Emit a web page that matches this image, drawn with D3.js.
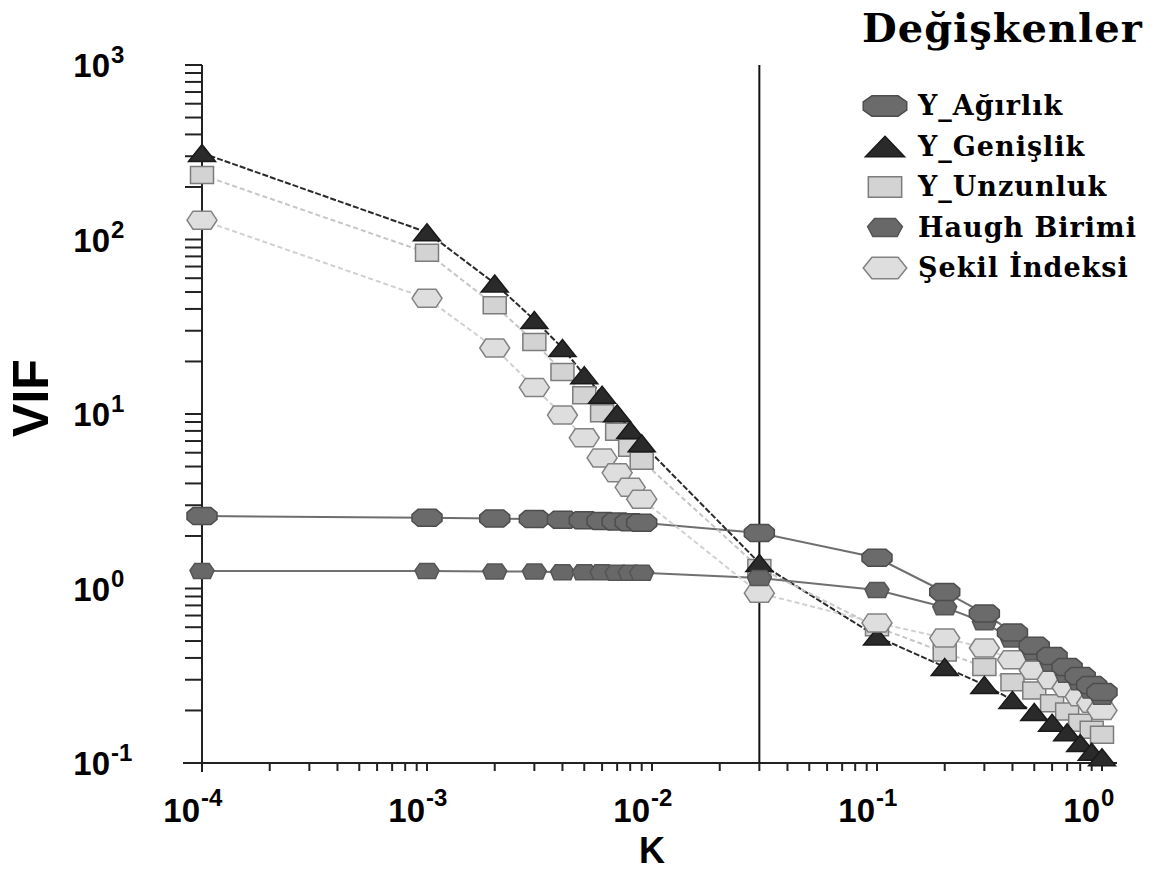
<!DOCTYPE html>
<html>
<head>
<meta charset="utf-8">
<script src="https://cdn.jsdelivr.net/npm/d3@7"></script>
<style>
  body { margin: 0; background: #fff; }
  svg { display: block; }
</style>
</head>
<body>
<svg id="chart" width="1163" height="870"></svg>
<script>
// K values (ridge parameter)
const kValues = [0.0001, 0.001, 0.002, 0.003, 0.004, 0.005, 0.006, 0.007, 0.008, 0.009,
  0.03, 0.1, 0.2, 0.3, 0.4, 0.5, 0.6, 0.7, 0.8, 0.9, 1.0];

const seriesNames = ["Y_Ağırlık", "Y_Genişlik", "Y_Unzunluk", "Haugh Birimi", "Şekil İndeksi"];

const vifAgirlik = [2.6, 2.54, 2.52, 2.5, 2.48, 2.46, 2.44, 2.42, 2.4, 2.38,
  2.08, 1.5, 0.955, 0.72, 0.56, 0.47, 0.41, 0.355, 0.315, 0.28, 0.255];
const vifGenislik = [313, 110, 56, 34.6, 23.9, 16.7, 12.9, 10.1, 8.1, 6.8,
  1.4, 0.53, 0.355, 0.28, 0.23, 0.196, 0.17, 0.15, 0.13, 0.116, 0.108];
const vifUzunluk = [234, 84, 42, 25.9, 17.4, 12.8, 10.1, 7.9, 6.4, 5.4,
  1.31, 0.6, 0.43, 0.355, 0.29, 0.26, 0.22, 0.197, 0.17, 0.155, 0.145];
const vifHaugh = [1.26, 1.26, 1.25, 1.25, 1.24, 1.24, 1.24, 1.23, 1.23, 1.23,
  1.15, 0.98, 0.78, 0.64, 0.51, 0.43, 0.37, 0.32, 0.29, 0.26, 0.24];
const vifSekil = [129, 46, 23.9, 14.2, 9.86, 7.3, 5.6, 4.6, 3.8, 3.25,
  0.94, 0.635, 0.52, 0.456, 0.39, 0.34, 0.30, 0.27, 0.24, 0.22, 0.20];

const chosenK = 0.03;
const xTickExp = [-4, -3, -2, -1, 0];
const yTickExp = [-1, 0, 1, 2, 3];

const svg = d3.select("#chart");
const margin = { top: 65, right: 61, bottom: 107, left: 202 };
const width = 1163 - margin.left - margin.right;
const height = 870 - margin.top - margin.bottom;

const x = d3.scaleLog().domain([1e-4, 1]).range([margin.left, margin.left + width]);
const y = d3.scaleLog().domain([0.1, 1000]).range([margin.top + height, margin.top]);

// marker outlines, unit box
const shapes = {
  oct: [[-0.5, -0.2], [-0.3, -0.5], [0.3, -0.5], [0.5, -0.2], [0.5, 0.2], [0.3, 0.5], [-0.3, 0.5], [-0.5, 0.2]],
  tri: [[0, -0.5], [0.5, 0.5], [-0.5, 0.5]],
  rect: [[-0.5, -0.5], [0.5, -0.5], [0.5, 0.5], [-0.5, 0.5]],
  crown: [[-0.3, -0.5], [0.3, -0.5], [0.5, -0.05], [0.35, 0.5], [-0.35, 0.5], [-0.5, -0.05]],
  hex: [[-0.5, 0], [-0.3, -0.5], [0.3, -0.5], [0.5, 0], [0.3, 0.5], [-0.3, 0.5]]
};
const shapePath = (name, w, h) => "M" + shapes[name].map(p => [p[0] * w, p[1] * h].join(",")).join("L") + "Z";

const series = [
  { name: seriesNames[0], values: vifAgirlik, shape: "oct", w: 30, h: 17, fill: "#6b6b6b", stroke: "#4d4d4d", line: "#6e6e6e", dash: null },
  { name: seriesNames[1], values: vifGenislik, shape: "tri", w: 27, h: 17, fill: "#2a2a2a", stroke: "#1a1a1a", line: "#2a2a2a", dash: "6,2" },
  { name: seriesNames[2], values: vifUzunluk, shape: "rect", w: 23, h: 17, fill: "#d3d3d3", stroke: "#7c7c7c", line: "#c6c6c6", dash: "5,3" },
  { name: seriesNames[3], values: vifHaugh, shape: "crown", w: 24, h: 15, fill: "#686868", stroke: "#555", line: "#707070", dash: null },
  { name: seriesNames[4], values: vifSekil, shape: "hex", w: 30, h: 18, fill: "#dedede", stroke: "#828282", line: "#d0d0d0", dash: "5,3" }
];

// axes
const axisColor = "#222";
svg.append("line")
  .attr("x1", margin.left).attr("x2", margin.left)
  .attr("y1", y(1000)).attr("y2", y(0.1) + 9)
  .attr("stroke", axisColor).attr("stroke-width", 2);
svg.append("line")
  .attr("x1", margin.left - 19).attr("x2", x(1) + 15)
  .attr("y1", y(0.1)).attr("y2", y(0.1))
  .attr("stroke", axisColor).attr("stroke-width", 2);

const yTicks = y.ticks().filter(d => d >= 0.1 && d <= 1000);
svg.append("g").selectAll("line")
  .data(yTicks)
  .enter()
  .append("line")
  .attr("x1", margin.left - 17).attr("x2", margin.left)
  .attr("y1", d => y(d)).attr("y2", d => y(d))
  .attr("stroke", axisColor).attr("stroke-width", 2);

const xTicks = x.ticks().filter(d => d >= 1e-4 && d <= 1);
svg.append("g").selectAll("line")
  .data(xTicks)
  .enter()
  .append("line")
  .attr("x1", d => x(d)).attr("x2", d => x(d))
  .attr("y1", y(0.1)).attr("y2", y(0.1) + 8)
  .attr("stroke", axisColor).attr("stroke-width", 2);

const labelFont = "'Liberation Sans', Arial, sans-serif";

svg.append("g").selectAll("text")
  .data(yTickExp)
  .enter()
  .append("text")
  .attr("x", 110)
  .attr("y", d => y(Math.pow(10, d)) + 12)
  .attr("text-anchor", "end")
  .attr("font-family", labelFont)
  .attr("font-weight", "bold")
  .attr("font-size", 33)
  .text("10");
svg.append("g").selectAll("text")
  .data(yTickExp)
  .enter()
  .append("text")
  .attr("x", 111)
  .attr("y", d => y(Math.pow(10, d)) - 2)
  .attr("font-family", labelFont)
  .attr("font-weight", "bold")
  .attr("font-size", 24)
  .text(d => d < 0 ? "-" + Math.abs(d) : d);

svg.append("g").selectAll("text")
  .data(xTickExp)
  .enter()
  .append("text")
  .attr("x", d => x(Math.pow(10, d)) - 2)
  .attr("y", 822)
  .attr("text-anchor", "end")
  .attr("font-family", labelFont)
  .attr("font-weight", "bold")
  .attr("font-size", 33)
  .text("10");
svg.append("g").selectAll("text")
  .data(xTickExp)
  .enter()
  .append("text")
  .attr("x", d => x(Math.pow(10, d)) - 1)
  .attr("y", 806)
  .attr("font-family", labelFont)
  .attr("font-weight", "bold")
  .attr("font-size", 24)
  .text(d => d < 0 ? "-" + Math.abs(d) : d);

svg.append("text")
  .attr("x", 652)
  .attr("y", 863)
  .attr("text-anchor", "middle")
  .attr("font-family", labelFont)
  .attr("font-weight", "bold")
  .attr("font-size", 36)
  .text("K");

svg.append("text")
  .attr("transform", "translate(48,398) rotate(-90)")
  .attr("text-anchor", "middle")
  .attr("font-family", labelFont)
  .attr("font-weight", "bold")
  .attr("font-size", 50)
  .text("VIF");

// chosen K
svg.append("line")
  .attr("x1", x(chosenK)).attr("x2", x(chosenK))
  .attr("y1", y(1000)).attr("y2", y(0.1))
  .attr("stroke", "#111").attr("stroke-width", 2);

// lines first, then markers
const line = d3.line()
  .x((d, i) => x(kValues[i]))
  .y(d => y(d));

series.forEach(s => {
  svg.append("path")
    .datum(s.values)
    .attr("fill", "none")
    .attr("stroke", s.line)
    .attr("stroke-width", 2)
    .attr("stroke-dasharray", s.dash)
    .attr("d", line);
});

const drawOrder = [2, 1, 4, 3, 0];
drawOrder.forEach(idx => {
  const s = series[idx];
  svg.append("g").selectAll("path")
    .data(s.values)
    .enter()
    .append("path")
    .attr("transform", (d, i) => `translate(${x(kValues[i])},${y(d)})`)
    .attr("d", shapePath(s.shape, s.w, s.h))
    .attr("fill", s.fill)
    .attr("stroke", s.stroke)
    .attr("stroke-width", 1.5);
});

// legend
const legendFont = "'DejaVu Serif', serif";
svg.append("text")
  .attr("x", 862)
  .attr("y", 42)
  .attr("font-family", legendFont)
  .attr("font-weight", "bold")
  .attr("font-size", 40)
  .attr("letter-spacing", 1)
  .text("Değişkenler");

const legend = svg.append("g").selectAll("g")
  .data(series)
  .enter()
  .append("g")
  .attr("transform", (d, i) => `translate(0,${115 + i * 40.5})`);

legend.append("path")
  .attr("transform", "translate(885,-9)")
  .attr("d", d => shapePath(d.shape, d.w * 1.45, d.h * 1.2))
  .attr("fill", d => d.fill)
  .attr("stroke", d => d.stroke)
  .attr("stroke-width", 1.5);

legend.append("text")
  .attr("x", 918)
  .attr("font-family", legendFont)
  .attr("font-weight", "bold")
  .attr("font-size", 27)
  .attr("letter-spacing", 1)
  .text(d => d.name);
</script>
</body>
</html>
